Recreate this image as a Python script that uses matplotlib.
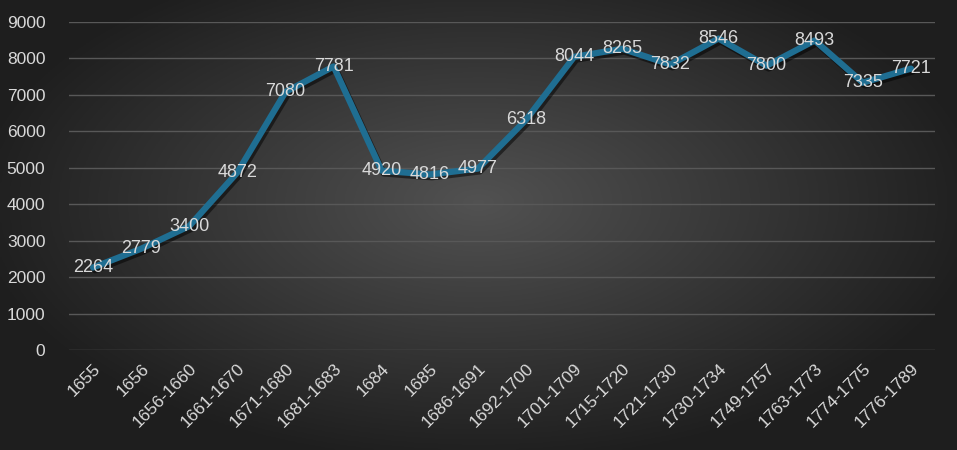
import numpy as np
import matplotlib
matplotlib.use('Agg')
import matplotlib.pyplot as plt
import matplotlib.patheffects as pe

plt.rcParams['font.family'] = ['Liberation Sans', 'DejaVu Sans']

periods = ['1655', '1656', '1656-1660', '1661-1670', '1671-1680', '1681-1683',
           '1684', '1685', '1686-1691', '1692-1700', '1701-1709', '1715-1720',
           '1721-1730', '1730-1734', '1749-1757', '1763-1773', '1774-1775',
           '1776-1789']
values = [2264, 2779, 3400, 4872, 7080, 7781, 4920, 4816, 4977, 6318, 8044,
          8265, 7832, 8546, 7800, 8493, 7335, 7721]
yticks = [0, 1000, 2000, 3000, 4000, 5000, 6000, 7000, 8000, 9000]

fig = plt.figure(figsize=(9.57, 4.5), dpi=100)

# radial gradient background
bg = fig.add_axes([0, 0, 1, 1], zorder=-10)
gx, gy = np.meshgrid(np.linspace(-1, 1, 400), np.linspace(-1, 1, 200))
r = np.sqrt((gx / 1.0) ** 2 + ((gy + 0.1) / 1.1) ** 2)
shade = np.clip(0.32 - 0.19 * r, 0.12, 0.32)
bg.imshow(np.dstack([shade, shade, shade]), aspect='auto', extent=[0, 1, 0, 1])
bg.axis('off')

ax = fig.add_axes([69 / 957, 1 - 350 / 450, 866 / 957, 328 / 450])
ax.patch.set_alpha(0)
x = np.arange(len(periods))
ax.plot(x, values, color='#1F6E92', lw=4.5, solid_joinstyle='round',
        solid_capstyle='round', zorder=3,
        path_effects=[pe.SimpleLineShadow(offset=(1.5, -2), shadow_color='black', alpha=0.5), pe.Normal()])

for xi, v in zip(x, values):
    ax.text(xi, v, str(v), ha='center', va='center', color='#D9D9D9', fontsize=13, zorder=4)

ax.set_xlim(-0.5, len(periods) - 0.5)
ax.set_ylim(0, 9000)
ax.set_yticks(yticks)
ax.set_xticks(x)
ax.set_xticklabels(periods, rotation=45, ha='right', rotation_mode='anchor')
ax.grid(axis='y', color='#585858', lw=1)
ax.set_axisbelow(True)
for s in ax.spines.values():
    s.set_visible(False)
ax.tick_params(axis='both', length=0, colors='#D9D9D9', labelsize=12.5)
ax.tick_params(axis='y', pad=17)
ax.tick_params(axis='x', pad=8)

plt.savefig('out.png', dpi=100)
